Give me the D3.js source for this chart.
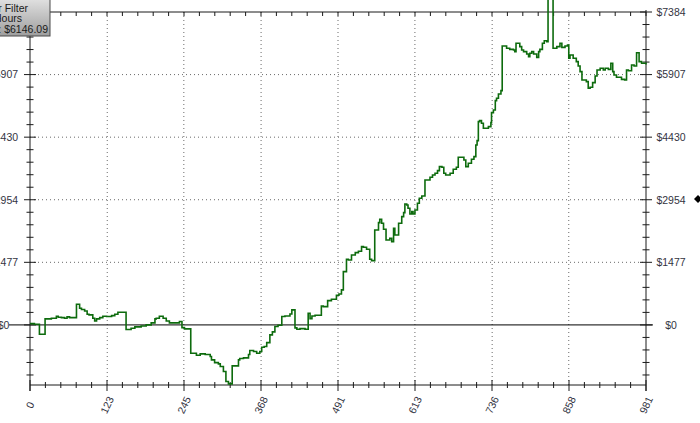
<!DOCTYPE html>
<html>
  <head>
    <title>Equity Curve</title>
    <script src="https://d3js.org/d3.v7.min.js"></script>
  </head>
  <body>
    <svg class="chart" width="700" height="423"></svg>
    <script>
// Trade number where each equity level starts, and the equity level ($)
var trades = [0, 7, 15, 24, 34, 42, 45, 50, 55, 59, 63, 74, 79, 82, 87, 91, 94, 100, 103, 106,
  111, 116, 122, 130, 135, 140, 153, 161, 167, 177, 185, 193, 199, 201, 206, 212, 217, 222, 238, 242,
  246, 256, 265, 271, 279, 287, 289, 294, 300, 303, 308, 312, 316, 322, 332, 334, 340, 348, 350, 356,
  361, 366, 369, 373, 377, 382, 386, 390, 395, 401, 406, 414, 417, 422, 425, 430, 438, 443, 446, 449,
  454, 464, 467, 474, 480, 488, 492, 496, 499, 504, 507, 512, 518, 523, 528, 531, 536, 541, 544, 549,
  555, 557, 560, 563, 567, 573, 576, 579, 581, 587, 592, 595, 597, 600, 602, 605, 608, 610, 613, 617,
  620, 624, 629, 637, 641, 645, 649, 652, 656, 659, 662, 669, 674, 679, 682, 691, 694, 698, 703, 707,
  710, 712, 714, 716, 719, 722, 730, 734, 735, 738, 741, 743, 746, 750, 752, 759, 764, 770, 772, 774,
  780, 783, 786, 791, 794, 796, 799, 802, 807, 810, 812, 816, 819, 823, 825, 833, 839, 844, 847, 852,
  856, 858, 860, 865, 870, 873, 876, 879, 886, 889, 892, 896, 900, 903, 908, 913, 916, 921, 925, 928,
  930, 934, 942, 947, 950, 953, 958, 962, 966, 970, 974, 981];
var equity = [31, 16, -220, 142, 157, 204, 181, 173, 157, 189, 173, 488, 393, 362, 330, 252, 236, 157, 94, 142,
  173, 204, 197, 220, 252, 299, -110, -79, -47, -24, 0, 47, 142, 157, 204, 157, 94, 47, 79, -63,
  -94, -668, -716, -684, -700, -747, -826, -889, -920, -983, -1101, -1337, -1392, -967, -826, -794, -778, -700, -605, -629,
  -668, -629, -527, -511, -417, -236, -165, -39, -8, 197, 212, 259, 354, -71, -102, -87, -102, 275, 149, 212,
  228, 448, 432, 574, 605, 700, 731, 826, 1258, 1549, 1533, 1651, 1706, 1738, 1848, 1832, 1785, 1549, 1518, 2241,
  2414, 2493, 2398, 2257, 2005, 2044, 1966, 2280, 2123, 2398, 2556, 2650, 2854, 2831, 2752, 2618, 2673, 2618, 2713, 2870,
  2988, 3043, 3421, 3484, 3539, 3578, 3641, 3735, 3720, 3578, 3539, 3578, 3672, 3720, 3955, 3892, 3735, 3814, 3908, 3971,
  4246, 4348, 4797, 4820, 4757, 4640, 4679, 4773, 5009, 5072, 5292, 5347, 5449, 5528, 6582, 6527, 6503, 6487, 6448, 6645,
  6566, 6487, 6448, 6393, 6330, 6409, 6448, 6393, 6314, 6448, 6503, 6645, 6707, 6684, 7690, 6527, 6566, 6645, 6550, 6582,
  6605, 6291, 6369, 6291, 6212, 6110, 5976, 5780, 5740, 5583, 5607, 5717, 5874, 6015, 6055, 6015, 6055, 6031, 6173, 5976,
  5898, 5843, 5795, 5780, 6015, 5999, 6133, 6110, 6424, 6212, 6173, 6146];

// Axis ticks
var xTicks = [0, 123, 245, 368, 491, 613, 736, 858, 981];
var yTicks = [0, 1477, 2954, 4430, 5907, 7384];
var yTickLabels = ["$0", "$1477", "$2954", "$4430", "$5907", "$7384"];
var legendLines = ["Hour Filter", "All Hours", "Net Profit: $6146.09"];

var svg = d3.select("svg");

var x = d3.scaleLinear().domain([0, 981]).range([30, 646]);
var y = d3.scaleLinear().domain([-1418, 7384]).range([385, 12]);

var textColor = "#33343f";

// minor ticks: 5 subdivisions per major interval
var xMinor = d3.range(0, 40.01).map(function (i) { return i * 981 / 40; });
var yMinor = d3.range(-4, 25.01).map(function (i) { return i * 7384 / 25; })
    .filter(function (v) { return v >= -1418; });

// Grid
var grid = svg.append("g").attr("class", "grid");
grid.selectAll("line.vg")
    .data(xTicks.slice(1, -1))
    .enter().append("line")
    .attr("class", "vg")
    .attr("x1", function (d) { return x(d === 491 ? 490.5 : d); })
    .attr("x2", function (d) { return x(d === 491 ? 490.5 : d); })
    .attr("y1", y.range()[1]).attr("y2", y.range()[0]);
grid.selectAll("line.hg")
    .data(yTicks.slice(1, -1))
    .enter().append("line")
    .attr("class", "hg")
    .attr("x1", x.range()[0]).attr("x2", x.range()[1])
    .attr("y1", function (d) { return y(d); })
    .attr("y2", function (d) { return y(d); });

// Zero line
svg.append("line")
    .attr("x1", 9).attr("x2", 653)
    .attr("y1", y(0)).attr("y2", y(0))
    .attr("stroke", "#000").attr("stroke-width", 1);

// Axes frame
var axes = svg.append("g").attr("class", "axes");
axes.append("line").attr("x1", x(0)).attr("x2", x(0)).attr("y1", 0).attr("y2", 391);
axes.append("line").attr("x1", x(981)).attr("x2", x(981)).attr("y1", 10).attr("y2", 391);
axes.append("line").attr("x1", x(0)).attr("x2", x(981)).attr("y1", y(-1418)).attr("y2", y(-1418));
axes.append("line").attr("x1", x(0)).attr("x2", x(981)).attr("y1", y(7384)).attr("y2", y(7384));

function isMajor(v, step) {
  var r = Math.abs(v / step - Math.round(v / step));
  return r < 0.01;
}

// x ticks (bottom and top)
xMinor.forEach(function (v) {
  var maj = isMajor(v, 981 / 8);
  axes.append("line")
      .attr("x1", x(v)).attr("x2", x(v))
      .attr("y1", y(-1418) - (maj ? 5 : 3)).attr("y2", y(-1418) + (maj ? 6 : 3));
  axes.append("line")
      .attr("x1", x(v)).attr("x2", x(v))
      .attr("y1", y(7384)).attr("y2", y(7384) + 4);
});

// y ticks (left and right)
yMinor.forEach(function (v) {
  var maj = isMajor(v, 7384 / 5);
  var h = maj ? 6 : 3.5;
  axes.append("line").attr("x1", x(0) - h).attr("x2", x(0) + h)
      .attr("y1", y(v)).attr("y2", y(v));
  axes.append("line").attr("x1", x(981) - h).attr("x2", x(981) + h)
      .attr("y1", y(v)).attr("y2", y(v));
});

// Equity line
var points = trades.map(function (t, i) { return [t, equity[i]]; });
var line = d3.line()
    .x(function (d) { return x(d[0]); })
    .y(function (d) { return y(d[1]); })
    .curve(d3.curveStepAfter);
svg.append("path")
    .datum(points)
    .attr("fill", "none")
    .attr("stroke", "#0d6b0d")
    .attr("stroke-width", 1.6)
    .attr("stroke-linejoin", "miter")
    .attr("d", line);

// Tick labels
var labels = svg.append("g").attr("class", "labels");
yTicks.forEach(function (v, i) {
  labels.append("text").attr("x", 3.5).attr("y", y(v)).attr("dy", "0.36em")
      .attr("text-anchor", "middle").text(yTickLabels[i]);
  labels.append("text").attr("x", 671).attr("y", y(v)).attr("dy", "0.36em")
      .attr("text-anchor", "middle").text(yTickLabels[i]);
});
xTicks.forEach(function (v, i) {
  var px = x(i * 981 / 8);
  labels.append("text")
      .attr("transform", "translate(" + px + ",405) rotate(-65)")
      .attr("dy", "0.36em")
      .attr("text-anchor", "middle")
      .text(v);
});

// Marker on the right edge
svg.append("path")
    .attr("d", "M694,199L698,195L702,199L698,203Z")
    .attr("fill", "#000");

// Legend box (top-left, partly off the page)
var defs = svg.append("defs");
var grad = defs.append("linearGradient").attr("id", "boxgrad")
    .attr("x1", 0).attr("y1", 0).attr("x2", 0).attr("y2", 1);
grad.append("stop").attr("offset", "0%").attr("stop-color", "#e2e2e2");
grad.append("stop").attr("offset", "100%").attr("stop-color", "#9e9e9e");
svg.append("rect")
    .attr("x", -60).attr("y", -2).attr("width", 110).attr("height", 38)
    .attr("fill", "url(#boxgrad)")
    .attr("stroke", "#4a4a4a").attr("stroke-width", 1);
var legX = [28, 22, 48];
legendLines.forEach(function (s, i) {
  svg.append("text")
      .attr("class", "legend")
      .attr("x", legX[i]).attr("y", 11.5 + i * 10.5)
      .attr("text-anchor", "end")
      .text(s);
});
    </script>
  </body>
</html>

<style>
  body { margin: 0; background: #fff; }
  svg { display: block; }
  .grid line {
    stroke: #6a6a6a;
    stroke-width: 1;
    stroke-dasharray: 1, 3;
  }
  .axes line {
    stroke: #1a1a1a;
    stroke-width: 1;
  }
  .labels text {
    font-family: "Liberation Sans", sans-serif;
    font-size: 10.5px;
    fill: #33343f;
  }
  .legend {
    font-family: "Liberation Sans", sans-serif;
    font-size: 10.5px;
    fill: #1a1a1a;
  }
</style>
